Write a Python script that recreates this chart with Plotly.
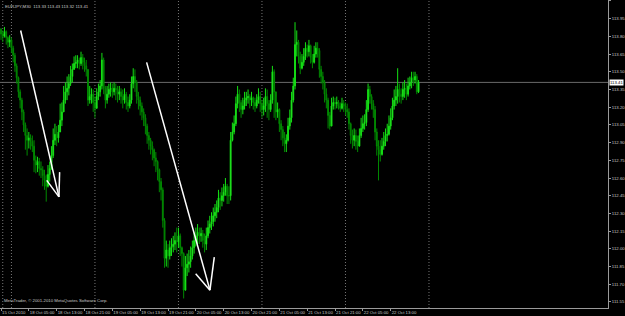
import plotly.graph_objects as go

# ---------------- data (EURJPY, M30) ----------------
first_open = 113.86
closes = [
    113.82, 113.80, 113.84, 113.79, 113.75, 113.77, 113.70, 113.64, 113.55, 113.45,
    113.33, 113.26, 113.16, 113.05, 112.96, 112.92, 112.94, 112.91, 112.87, 112.75,
    112.71, 112.74, 112.68, 112.67, 112.62, 112.58, 112.53, 112.63, 112.68, 112.79,
    112.92, 112.97, 112.94, 112.99, 113.09, 113.16, 113.26, 113.33, 113.36, 113.40,
    113.46, 113.52, 113.57, 113.58, 113.60, 113.57, 113.62, 113.58, 113.55, 113.52,
    113.26, 113.29, 113.31, 113.24, 113.19, 113.29, 113.33, 113.38, 113.60, 113.36,
    113.26, 113.31, 113.35, 113.36, 113.33, 113.36, 113.35, 113.31, 113.33, 113.29,
    113.26, 113.31, 113.24, 113.21, 113.26, 113.40, 113.46, 113.41, 113.29, 113.26,
    113.21, 113.16, 113.11, 113.04, 112.96, 112.92, 112.87, 112.84, 112.77, 112.74,
    112.67, 112.57, 112.50, 112.24, 111.92, 111.99, 111.94, 112.01, 112.02, 112.04,
    112.07, 112.06, 112.11, 112.01, 111.96, 111.65, 111.84, 111.87, 111.89, 111.94,
    112.01, 112.07, 112.11, 112.14, 112.11, 112.13, 112.07, 112.04, 112.11, 112.18,
    112.21, 112.23, 112.28, 112.31, 112.35, 112.43, 112.41, 112.45, 112.48, 112.53,
    112.45, 112.45, 112.92, 112.99, 113.06, 113.23, 113.31, 113.24, 113.18, 113.21,
    113.26, 113.28, 113.29, 113.26, 113.28, 113.24, 113.21, 113.26, 113.29, 113.23,
    113.18, 113.21, 113.29, 113.23, 113.18, 113.26, 113.50, 113.33, 113.16, 113.18,
    113.06, 113.01, 112.94, 112.89, 112.92, 113.04, 113.11, 113.26, 113.38, 113.73,
    113.75, 113.63, 113.53, 113.58, 113.63, 113.70, 113.67, 113.72, 113.62, 113.58,
    113.65, 113.70, 113.68, 113.52, 113.46, 113.41, 113.31, 113.26, 113.13, 113.04,
    113.21, 113.24, 113.23, 113.24, 113.21, 113.19, 113.23, 113.21, 113.18, 113.16,
    113.06, 112.96, 112.92, 112.96, 112.91, 112.87, 112.96, 113.02, 113.06, 113.07,
    113.18, 113.35, 113.29, 113.23, 113.18, 112.99, 112.87, 112.84, 112.80, 112.87,
    112.91, 112.96, 112.97, 113.04, 113.11, 113.21, 113.26, 113.29, 113.35, 113.31,
    113.29, 113.35, 113.36, 113.31, 113.38, 113.41, 113.45, 113.43, 113.46, 113.33,
    113.41,
]
highs = [
    113.87, 113.85, 113.88, 113.85, 113.80, 113.81, 113.79, 113.72, 113.66, 113.57,
    113.46, 113.35, 113.28, 113.18, 113.07, 113.02, 112.99, 112.97, 112.96, 112.92,
    112.79, 112.78, 112.77, 112.74, 112.70, 112.67, 112.63, 112.71, 112.74, 112.87,
    113.02, 113.06, 113.04, 113.05, 113.23, 113.24, 113.38, 113.41, 113.46, 113.48,
    113.55, 113.57, 113.63, 113.64, 113.64, 113.62, 113.67, 113.65, 113.62, 113.60,
    113.52, 113.38, 113.36, 113.35, 113.29, 113.36, 113.40, 113.43, 113.66, 113.62,
    113.38, 113.38, 113.40, 113.41, 113.40, 113.41, 113.40, 113.38, 113.38, 113.36,
    113.35, 113.36, 113.33, 113.29, 113.31, 113.46, 113.53, 113.52, 113.43, 113.33,
    113.29, 113.24, 113.19, 113.14, 113.06, 112.99, 112.94, 112.91, 112.85, 112.82,
    112.75, 112.68, 112.60, 112.52, 112.26, 112.07, 112.04, 112.07, 112.09, 112.11,
    112.14, 112.18, 112.18, 112.13, 112.02, 111.97, 111.94, 111.96, 111.99, 112.02,
    112.07, 112.14, 112.18, 112.21, 112.18, 112.18, 112.16, 112.13, 112.18, 112.24,
    112.28, 112.31, 112.35, 112.38, 112.41, 112.50, 112.48, 112.52, 112.55, 112.60,
    112.55, 112.53, 112.99, 113.07, 113.13, 113.29, 113.38, 113.35, 113.26, 113.28,
    113.33, 113.33, 113.35, 113.31, 113.33, 113.29, 113.28, 113.31, 113.36, 113.33,
    113.26, 113.28, 113.36, 113.35, 113.26, 113.31, 113.55, 113.52, 113.29, 113.24,
    113.19, 113.09, 113.04, 112.99, 112.97, 113.11, 113.18, 113.33, 113.45, 113.92,
    113.85, 113.77, 113.67, 113.65, 113.70, 113.75, 113.73, 113.77, 113.73, 113.65,
    113.72, 113.75, 113.75, 113.70, 113.55, 113.50, 113.43, 113.36, 113.28, 113.16,
    113.28, 113.29, 113.28, 113.29, 113.26, 113.24, 113.28, 113.26, 113.24, 113.23,
    113.19, 113.07, 113.01, 113.02, 113.01, 112.96, 113.02, 113.11, 113.13, 113.14,
    113.26, 113.40, 113.38, 113.31, 113.26, 113.21, 113.02, 112.92, 112.92, 112.94,
    112.99, 113.02, 113.06, 113.13, 113.19, 113.28, 113.35, 113.38, 113.53, 113.40,
    113.36, 113.41, 113.43, 113.40, 113.45, 113.46, 113.50, 113.50, 113.50, 113.48,
    113.43,
]
lows = [
    113.77, 113.75, 113.79, 113.73, 113.70, 113.71, 113.66, 113.58, 113.50, 113.40,
    113.28, 113.19, 113.09, 112.99, 112.84, 112.79, 112.85, 112.84, 112.82, 112.65,
    112.64, 112.65, 112.62, 112.60, 112.53, 112.50, 112.40, 112.52, 112.57, 112.67,
    112.77, 112.88, 112.87, 112.90, 113.01, 113.04, 113.18, 113.23, 113.26, 113.30,
    113.38, 113.41, 113.52, 113.53, 113.53, 113.52, 113.55, 113.52, 113.50, 113.46,
    113.21, 113.23, 113.23, 113.16, 113.11, 113.21, 113.26, 113.29, 113.35, 113.31,
    113.19, 113.23, 113.28, 113.29, 113.28, 113.30, 113.26, 113.24, 113.26, 113.23,
    113.19, 113.23, 113.18, 113.16, 113.19, 113.23, 113.36, 113.33, 113.23, 113.18,
    113.13, 113.09, 113.04, 112.97, 112.89, 112.84, 112.80, 112.75, 112.70, 112.65,
    112.58, 112.48, 112.41, 112.18, 111.84, 111.85, 111.84, 111.91, 111.94, 111.97,
    111.99, 111.97, 112.01, 111.94, 111.85, 111.58, 111.72, 111.77, 111.80, 111.84,
    111.91, 111.96, 112.02, 112.04, 112.04, 112.06, 112.01, 111.97, 111.99, 112.09,
    112.13, 112.16, 112.19, 112.23, 112.26, 112.31, 112.33, 112.36, 112.40, 112.45,
    112.38, 112.38, 112.41, 112.91, 112.97, 113.04, 113.19, 113.16, 113.11, 113.14,
    113.18, 113.21, 113.23, 113.19, 113.21, 113.18, 113.16, 113.19, 113.23, 113.16,
    113.11, 113.13, 113.16, 113.11, 113.09, 113.16, 113.23, 113.11, 113.09, 113.11,
    112.99, 112.92, 112.87, 112.82, 112.82, 112.91, 113.01, 113.07, 113.24, 113.35,
    113.63, 113.57, 113.48, 113.52, 113.55, 113.60, 113.62, 113.63, 113.57, 113.53,
    113.57, 113.62, 113.62, 113.45, 113.40, 113.35, 113.24, 113.19, 113.02, 113.01,
    113.06, 113.18, 113.18, 113.19, 113.18, 113.16, 113.18, 113.16, 113.13, 113.11,
    113.01, 112.89, 112.85, 112.87, 112.84, 112.82, 112.89, 112.94, 112.99, 113.01,
    113.04, 113.16, 113.23, 113.18, 113.11, 112.92, 112.79, 112.58, 112.74, 112.79,
    112.84, 112.87, 112.91, 112.96, 113.01, 113.09, 113.18, 113.21, 113.23, 113.24,
    113.23, 113.26, 113.28, 113.26, 113.29, 113.35, 113.36, 113.38, 113.40, 113.31,
    113.32,
]
assert len(closes) == len(highs) == len(lows)
opens = [first_open] + closes[:-1]   # each bar opens at the previous close
bar_idx = list(range(len(closes)))

x_tick_idx = [0, 16, 32, 48, 64, 80, 96, 112, 128, 144, 160, 176, 192, 208, 224]
x_tick_labels = ["15 Oct 2010", "18 Oct 05:00", "18 Oct 13:00", "18 Oct 21:00",
                 "19 Oct 05:00", "19 Oct 13:00", "19 Oct 21:00", "20 Oct 05:00",
                 "20 Oct 13:00", "20 Oct 21:00", "21 Oct 05:00", "21 Oct 13:00",
                 "21 Oct 21:00", "22 Oct 05:00", "22 Oct 13:00"]
y_tick_vals = [111.55, 111.70, 111.85, 112.00, 112.15, 112.30, 112.45, 112.60, 112.75,
               112.90, 113.05, 113.20, 113.35, 113.50, 113.65, 113.80, 113.95, 114.10]
y_tick_labels = ["%.2f" % v for v in y_tick_vals]
separator_idx = [1, 6, 54, 102, 150, 198, 246]
bid_price = 113.41
title_text = "EURJPY,M30  113.33 113.43 113.32 113.41"
copyright_text = "MetaTrader, \u00a9 2001-2010 MetaQuotes Software Corp."

# drawn arrows (bar index, price)
arrows = [
    [(11.3, 113.85), (33.3, 112.44)],
    [(26.3, 112.58), (33.3, 112.44)],
    [(33.7, 112.65), (33.3, 112.44)],
    [(83.7, 113.58), (120.1, 111.65)],
    [(111.9, 111.79), (120.1, 111.65)],
    [(122.6, 111.93), (120.1, 111.65)],
]

# ---------------- figure ----------------
FONT = "Liberation Sans"
TXT = "#c8c8c8"
AX = "#9a9a9a"
FS = 4.3

fig = go.Figure()
fig.add_trace(go.Candlestick(
    x=bar_idx, open=opens, high=highs, low=lows, close=closes,
    increasing=dict(line=dict(color="#14e014", width=1), fillcolor="#66ff66"),
    decreasing=dict(line=dict(color="#008a00", width=1), fillcolor="#006a00"),
    whiskerwidth=0, showlegend=False, hoverinfo="skip",
))

shapes = []
for s in separator_idx:
    shapes.append(dict(type="line", xref="x", yref="paper", x0=s, x1=s, y0=0, y1=1,
                       line=dict(color="#767676", width=1, dash="1px,2px"), layer="below"))
shapes.append(dict(type="line", xref="paper", yref="y", x0=0, x1=1, y0=bid_price, y1=bid_price,
                   line=dict(color="#6a6a6a", width=1), layer="below"))
for (a, b) in arrows:
    shapes.append(dict(type="line", xref="x", yref="y", x0=a[0], y0=a[1], x1=b[0], y1=b[1],
                       line=dict(color="white", width=1.5)))

annotations = [
    dict(text=title_text, xref="paper", yref="paper", x=0, y=1, xanchor="left", yanchor="top",
         xshift=3, yshift=-2, showarrow=False, font=dict(family=FONT, size=FS, color=TXT)),
    dict(text=copyright_text, xref="paper", yref="paper", x=0, y=0, xanchor="left",
         yanchor="bottom", xshift=2, yshift=3, showarrow=False,
         font=dict(family=FONT, size=FS, color=TXT)),
    dict(text="%.2f" % bid_price, xref="paper", yref="y", x=1, y=bid_price, xanchor="left",
         yanchor="middle", xshift=1, showarrow=False, bgcolor="white", borderpad=0,
         font=dict(family=FONT, size=FS, color="black")),
]

fig.update_layout(
    width=625, height=316,
    margin=dict(l=0, r=17, t=0, b=8, pad=0),
    paper_bgcolor="black", plot_bgcolor="black",
    showlegend=False,
    shapes=shapes, annotations=annotations,
    xaxis=dict(range=[-0.575, 348.9], rangeslider=dict(visible=False), showgrid=False,
               zeroline=False, showline=True, linecolor=AX, linewidth=1,
               tickmode="array", tickvals=x_tick_idx, ticktext=x_tick_labels,
               ticks="outside", ticklen=2, tickcolor=AX, tickangle=0,
               ticklabelposition="outside right",
               tickfont=dict(family=FONT, size=FS, color=TXT)),
    yaxis=dict(side="right", range=[111.499, 114.108], showgrid=False, zeroline=False,
               showline=True, linecolor=AX, linewidth=1,
               tickmode="array", tickvals=y_tick_vals, ticktext=y_tick_labels,
               ticks="outside", ticklen=2, tickcolor=AX,
               tickfont=dict(family=FONT, size=FS, color=TXT)),
)

fig.write_html("out.html")
